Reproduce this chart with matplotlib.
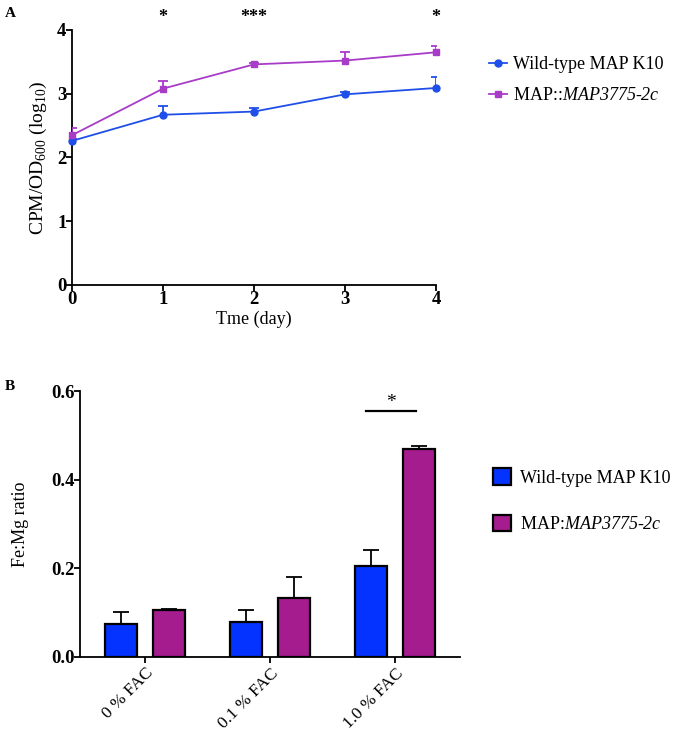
import numpy as np
import matplotlib.pyplot as plt

plt.rcParams['font.family'] = ['Liberation Serif', 'DejaVu Serif']
plt.rcParams['mathtext.fontset'] = 'custom'
plt.rcParams['mathtext.rm'] = 'Liberation Serif'
plt.rcParams['mathtext.sf'] = 'Liberation Serif:italic'

# Panel A data
days = [0, 1, 2, 3, 4]
wt_cpm = [2.26, 2.67, 2.72, 2.99, 3.09]
wt_cpm_err = [0.03, 0.13, 0.05, 0.03, 0.18]
mut_cpm = [2.35, 3.08, 3.46, 3.52, 3.65]
mut_cpm_err = [0.11, 0.12, 0.02, 0.13, 0.10]
sig_days = [1, 2, 4]
sig_marks = ['*', '***', '*']

# Panel B data
fac_labels = ['0 % FAC', '0.1 % FAC', '1.0 % FAC']
wt_ratio = [0.075, 0.078, 0.205]
wt_ratio_err = [0.026, 0.029, 0.036]
mut_ratio = [0.106, 0.132, 0.469]
mut_ratio_err = [0.002, 0.049, 0.006]

blue_line = '#1f4fe8'
purple_line = '#a83cc8'
blue_bar = '#0433ff'
purple_bar = '#a51c8f'

gene = '$\\mathsf{MAP3775}$-$\\mathsf{2c}$'


def up_err(ax, xs, ys, errs, color, cap, z=3):
    # one-sided (upper) error bars, like the original figure
    xs = np.asarray(xs, dtype=float)
    tops = np.asarray(ys) + np.asarray(errs)
    ax.vlines(xs, ys, tops, color=color, lw=1.3, zorder=z)
    ax.plot(xs, tops, ls='none', marker='_', ms=cap, mew=1.3, color=color, zorder=z)


fig = plt.figure(figsize=(6.8, 7.4), dpi=100)

# ---- Panel A ----
axA = fig.add_axes([0.1059, 0.6149, 0.5353, 0.3446])
up_err(axA, days, wt_cpm, wt_cpm_err, blue_line, 7)
up_err(axA, days, mut_cpm, mut_cpm_err, purple_line, 7)
axA.plot(days, wt_cpm, color=blue_line, marker='o', ms=5, lw=1.3,
         label='Wild-type MAP K10', clip_on=False, zorder=4)
axA.plot(days, mut_cpm, color=purple_line, marker='s', ms=5, lw=1.3,
         label='MAP::' + gene, clip_on=False, zorder=4)
axA.set_xlim(0, 4)
axA.set_ylim(0, 4)
axA.set_xticks(days)
axA.set_yticks([0, 1, 2, 3, 4])
for s in ['top', 'right']:
    axA.spines[s].set_visible(False)
for s in ['left', 'bottom']:
    axA.spines[s].set_linewidth(1.3)
axA.tick_params(width=1.3, length=4, labelsize=13.5, pad=0)
for lab in axA.get_xticklabels() + axA.get_yticklabels():
    lab.set_fontweight('bold')
axA.set_xlabel('Tme (day)', fontsize=13, labelpad=2)
axA.set_ylabel('CPM/OD$_{600}$ (log$_{10}$)', fontsize=14, labelpad=6)
for d, m in zip(sig_days, sig_marks):
    axA.text(d, 4.2, m, ha='center', va='center', fontsize=13, fontweight='bold')
axA.legend(loc='upper left', bbox_to_anchor=(1.1, 0.96), frameon=False,
           fontsize=13, handlelength=1.0, handletextpad=0.35, labelspacing=0.75)
fig.text(0.007, 0.99, 'A', fontsize=11, fontweight='bold', va='top')

# ---- Panel B ----
axB = fig.add_axes([0.1176, 0.1122, 0.5588, 0.3594])
x = np.arange(len(fac_labels))
w = 0.256
axB.bar(x - 0.19, wt_ratio, w, color=blue_bar, edgecolor='black', lw=1.6,
        label='Wild-type MAP K10', zorder=2)
axB.bar(x + 0.19, mut_ratio, w, color=purple_bar, edgecolor='black', lw=1.6,
        label='MAP:' + gene, zorder=2)
up_err(axB, x - 0.19, wt_ratio, wt_ratio_err, 'black', 11, z=1)
up_err(axB, x + 0.19, mut_ratio, mut_ratio_err, 'black', 11, z=1)
axB.set_xlim(-0.52, 2.52)
axB.set_ylim(0, 0.6)
axB.set_yticks([0.0, 0.2, 0.4, 0.6])
axB.set_yticklabels(['0.0', '0.2', '0.4', '0.6'])
axB.set_xticks(x)
axB.set_xticklabels(fac_labels, rotation=45, ha='right', rotation_mode='anchor',
                    fontsize=12.5)
for s in ['top', 'right']:
    axB.spines[s].set_visible(False)
for s in ['left', 'bottom']:
    axB.spines[s].set_linewidth(1.3)
axB.tick_params(width=1.3, length=4, pad=2)
axB.tick_params(axis='y', labelsize=13.5, pad=0)
for lab in axB.get_yticklabels():
    lab.set_fontweight('bold')
axB.set_ylabel('Fe:Mg ratio', fontsize=13, labelpad=16)
axB.plot([2 - 0.23, 2 + 0.17], [0.555, 0.555], color='black', lw=1.6)
axB.text(1.97, 0.575, '*', ha='center', va='center', fontsize=14)
axB.legend(loc='upper left', bbox_to_anchor=(1.045, 0.77), frameon=False,
           fontsize=13, handlelength=1.0, handleheight=1.0,
           handletextpad=0.5, labelspacing=1.55)
fig.text(0.007, 0.487, 'B', fontsize=11, fontweight='bold', va='top')

fig.savefig('out.png', dpi=100)
